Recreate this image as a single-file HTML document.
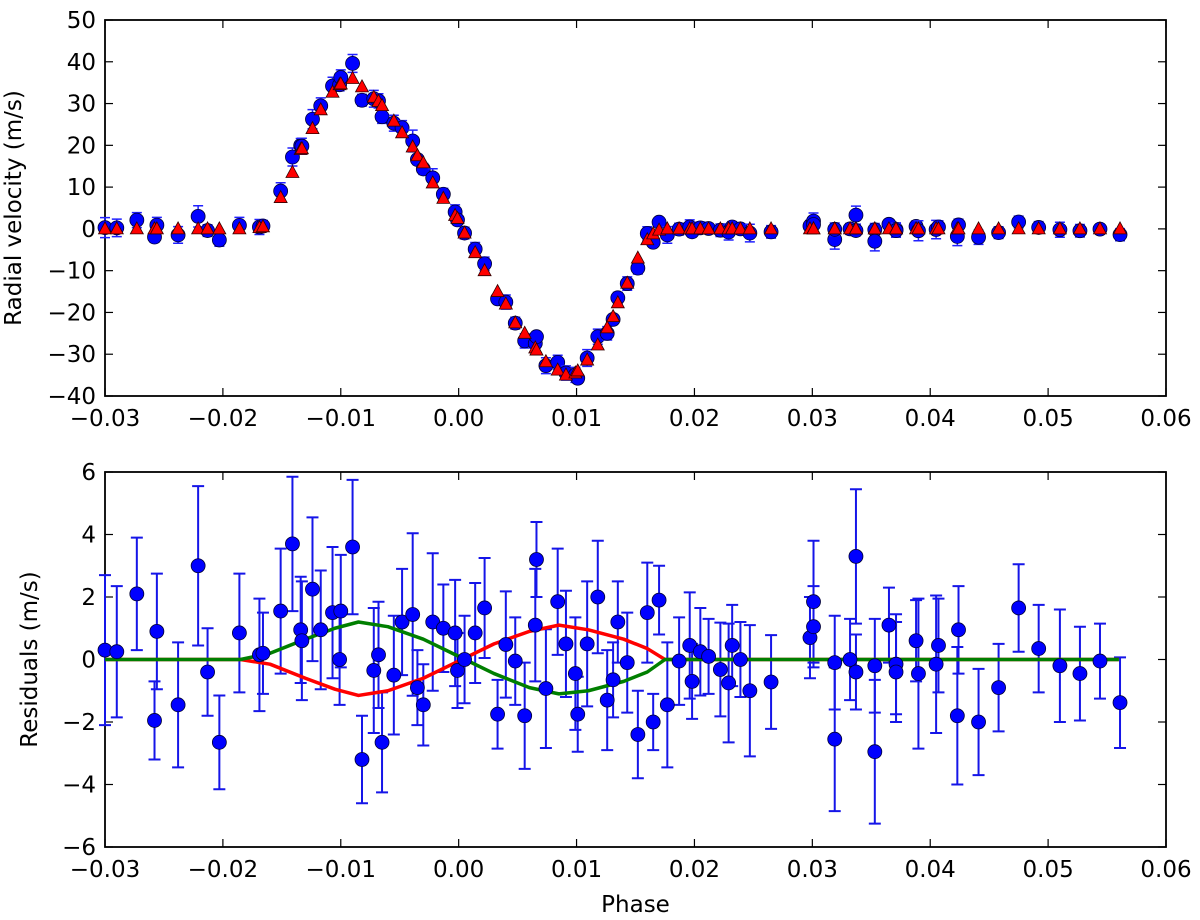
<!DOCTYPE html>
<html><head><meta charset="utf-8">
<style>html,body{margin:0;padding:0;background:#fff;}svg{display:block;font-family:"DejaVu Sans","Liberation Sans",sans-serif;}</style>
</head><body>
<svg id="chart" width="1200" height="920" viewBox="0 0 1200 920" xmlns="http://www.w3.org/2000/svg"></svg>
<script>
const phases = [-0.0300,-0.0290,-0.0273,-0.0258,-0.0256,-0.0238,-0.0221,-0.0213,-0.0203,-0.0186,-0.0169,-0.0166,-0.0151,-0.0141,-0.0134,-0.0133,-0.0124,-0.0117,-0.0107,-0.0101,-0.0100,-0.0090,-0.0082,-0.0072,-0.0068,-0.0065,-0.0055,-0.0048,-0.0039,-0.0035,-0.0030,-0.0022,-0.0013,-0.0003,-0.0001,0.0005,0.0014,0.0022,0.0033,0.0040,0.0048,0.0056,0.0065,0.0066,0.0074,0.0084,0.0091,0.0099,0.0101,0.0109,0.0118,0.0126,0.0131,0.0135,0.0143,0.0152,0.0160,0.0165,0.0170,0.0177,0.0187,0.0196,0.0198,0.0205,0.0212,0.0222,0.0229,0.0232,0.0239,0.0247,0.0265,0.0298,0.0301,0.0301,0.0319,0.0319,0.0332,0.0337,0.0337,0.0353,0.0353,0.0365,0.0371,0.0371,0.0388,0.0390,0.0405,0.0407,0.0423,0.0424,0.0441,0.0458,0.0475,0.0492,0.0510,0.0527,0.0544,0.0561];
const residuals = [0.3,0.25,2.1,-1.95,0.9,-1.45,3.0,-0.4,-2.65,0.85,0.15,0.2,1.55,3.7,0.95,0.6,2.25,0.95,1.5,0.0,1.55,3.6,-3.2,-0.35,0.15,-2.65,-0.5,1.2,1.44,-0.9,-1.45,1.2,1.0,0.85,-0.35,0.0,0.85,1.65,-1.75,0.48,-0.05,-1.8,1.1,3.2,-0.93,1.85,0.5,-0.45,-1.75,0.5,2.0,-1.3,-0.65,1.2,-0.1,-2.4,1.5,-2.0,1.9,-1.45,-0.05,0.45,-0.7,0.25,0.1,-0.32,-0.75,0.45,0.0,-1.0,-0.72,0.7,1.85,1.05,-2.55,-0.1,0.0,3.3,-0.4,-0.2,-2.95,1.1,-0.15,-0.4,0.6,-0.45,-0.15,0.45,-1.8,0.95,-2.0,-0.9,1.65,0.35,-0.2,-0.45,-0.05,-1.38];
const errors = [2.4,2.1,1.8,1.25,1.85,2.0,2.55,1.4,1.5,1.9,1.8,1.3,2.0,2.15,1.7,1.9,2.3,1.9,2.1,1.45,1.8,2.15,1.4,2.0,1.7,1.6,1.9,1.7,2.6,1.2,1.3,2.2,1.4,1.7,1.2,1.4,1.6,1.6,1.1,1.7,1.4,1.7,1.8,1.2,1.9,1.7,1.7,1.8,1.2,2.0,1.8,1.6,1.2,1.3,1.6,1.4,1.6,0.9,1.1,2.0,1.4,1.7,1.2,1.4,1.2,1.5,1.9,1.3,1.2,2.1,1.5,1.3,1.95,1.3,2.3,1.5,1.3,2.15,1.2,1.5,2.3,1.2,1.6,1.6,1.3,2.4,2.2,1.5,2.2,1.4,1.7,1.4,1.4,1.4,1.8,1.5,1.2,1.45];
const modelRV = [0,0,0,0,0,0,0,0,0,0,0.3,0.5,7.5,13.5,19,19.2,24,28.5,32.7,34.5,34.7,36,34,31.5,30.5,29.5,25.8,23,19.6,17.5,15.8,11,7.3,3.2,2.5,-1,-5.7,-10,-15,-18,-22.5,-25,-28.5,-29,-31.8,-33.8,-35,-34.5,-34,-31.4,-27.8,-23.7,-21,-17.7,-13,-7,-2.6,-1.2,-0.3,0,0,0,0,0,0,0,0,0,0,0,0,0,0,0,0,0,0,0,0,0,0,0,0,0,0,0,0,0,0,0,0,0,0,0,0,0,0,0];
const curvePhases = [-0.030,-0.0185,-0.016,-0.013,-0.0105,-0.0085,-0.006,-0.003,0.0,0.003,0.006,0.0085,0.011,0.014,0.016,0.0175,0.056];
const redCurve = [0,0,-0.15,-0.6,-0.95,-1.15,-1.0,-0.6,-0.05,0.5,0.9,1.1,0.95,0.65,0.35,0,0];
const greenCurve = [0,0,0.2,0.65,1.0,1.2,1.05,0.65,0.1,-0.45,-0.9,-1.1,-1.0,-0.7,-0.4,0,0];
const xTicks = [-0.03,-0.02,-0.01,0.00,0.01,0.02,0.03,0.04,0.05,0.06];
const xTickLabels = ["\u22120.03","\u22120.02","\u22120.01","0.00","0.01","0.02","0.03","0.04","0.05","0.06"];
const yTicksTop = [50,40,30,20,10,0,-10,-20,-30,-40];
const yTicksBot = [6,4,2,0,-2,-4,-6];

const NS="http://www.w3.org/2000/svg";
const svg=document.getElementById('chart');
function mk(tag,attrs,parent){const e=document.createElementNS(NS,tag);for(const k in attrs)e.setAttribute(k,attrs[k]);(parent||svg).appendChild(e);return e;}
const L=105,R=1166;
const xS=p=>L+(p+0.03)/0.09*(R-L);
const T1=20,B1=396,T2=472,B2=847;
const yTop=v=>T1+(50-v)/90*(B1-T1);
const yBot=v=>T2+(6-v)/12*(B2-T2);
function lab(v){return (v<0?"\u2212":"")+Math.abs(v);}

function axes(T,B,yS,yt,name,ylabel,ylx){
  const g=mk('g',{});
  
  
  xTicks.forEach((t,i)=>{
    const x=xS(t);
    const a=mk('line',{x1:x,x2:x,y1:B,y2:B-8,stroke:'#000','stroke-width':1.2},g);
    
    const b=mk('line',{x1:x,x2:x,y1:T,y2:T+8,stroke:'#000','stroke-width':1.2},g);
    
    const tx=mk('text',{x:x,y:B+30,'text-anchor':'middle','font-size':23,fill:'#000'},g);
    
    tx.textContent=xTickLabels[i];
  });
  yt.forEach(v=>{
    const y=yS(v);
    const a=mk('line',{x1:L,x2:L+8,y1:y,y2:y,stroke:'#000','stroke-width':1.2},g);
    
    const b=mk('line',{x1:R,x2:R-8,y1:y,y2:y,stroke:'#000','stroke-width':1.2},g);
    
    const tx=mk('text',{x:L-9,y:y+8,'text-anchor':'end','font-size':23,fill:'#000'},g);
    
    tx.textContent=lab(v);
  });
  const fr=mk('rect',{x:L,y:T,width:R-L,height:B-T,fill:'none',stroke:'#000','stroke-width':1.8},g);
  
  const yl=mk('text',{x:0,y:0,'text-anchor':'middle','font-size':23,fill:'#000',transform:`translate(${ylx},${(T+B)/2}) rotate(-90)`},g);
  
  yl.textContent=ylabel;
}
axes(T1,B1,yTop,yTicksTop,'top-axes','Radial velocity (m/s)',21);
axes(T2,B2,yBot,yTicksBot,'bottom-axes','Residuals (m/s)',37);
const xl=mk('text',{x:(L+R)/2,y:912,'text-anchor':'middle','font-size':23,fill:'#000'});

xl.textContent='Phase';

// top panel: observed (blue) and model (red)
const gTop=mk('g',{});

phases.forEach((p,i)=>{
  const x=xS(p),obs=modelRV[i]+residuals[i];
  const y=yTop(obs),e=errors[i]*(B1-T1)/90;
  const eb=mk('path',{d:`M${x},${y-e}V${y+e}M${x-5},${y-e}H${x+5}M${x-5},${y+e}H${x+5}`,stroke:'#2020ff','stroke-width':1.5,fill:'none'},gTop);
  
  const c=mk('circle',{cx:x,cy:y,r:7,fill:'#0000ff',stroke:'#000033','stroke-width':0.8},gTop);
  
});
phases.forEach((p,i)=>{
  const x=xS(p),y=yTop(modelRV[i]);
  const t=mk('path',{d:`M${x},${y-7}L${x+6.5},${y+5}L${x-6.5},${y+5}Z`,fill:'#ff0000',stroke:'#330000','stroke-width':0.8},gTop);
  
});

// bottom panel
const gBot=mk('g',{});

function curve(vals,color,name){
  const d=curvePhases.map((p,i)=>(i?'L':'M')+xS(p)+','+yBot(vals[i])).join('');
  const pl=mk('path',{d:d,stroke:color,'stroke-width':3.5,fill:'none','stroke-linejoin':'round'},gBot);
  
}
phases.forEach((p,i)=>{
  const x=xS(p),y=yBot(residuals[i]),e=errors[i]*(B2-T2)/12;
  const eb=mk('path',{d:`M${x},${y-e}V${y+e}M${x-6},${y-e}H${x+6}M${x-6},${y+e}H${x+6}`,stroke:'#1515e8','stroke-width':2,fill:'none'},gBot);
  
});
curve(redCurve,'#ff0000','red-model-curve');
curve(greenCurve,'#007f00','green-model-curve');
phases.forEach((p,i)=>{
  const c=mk('circle',{cx:xS(p),cy:yBot(residuals[i]),r:7,fill:'#0000ff',stroke:'#000033','stroke-width':0.8},gBot);
  
});
</script>
</body></html>
